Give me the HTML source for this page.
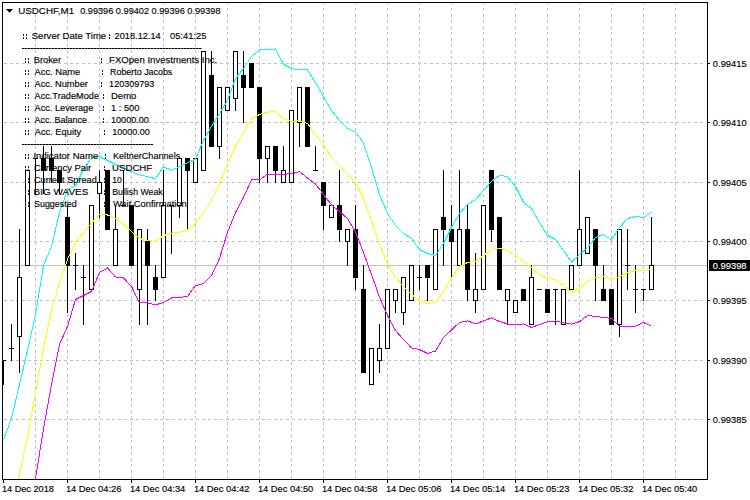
<!DOCTYPE html>
<html><head><meta charset="utf-8"><title>USDCHF,M1</title>
<style>
html,body{margin:0;padding:0;background:#fff;}
body{width:750px;height:500px;overflow:hidden;}
svg{display:block;}
text{font-family:"Liberation Sans",sans-serif;font-size:9.8px;fill:#000;stroke:#000;stroke-width:0.15px;}
</style></head><body>
<svg width="750" height="500" viewBox="0 0 750 500">
<rect x="0" y="0" width="750" height="500" fill="#fff"/>
<defs><clipPath id="cp"><rect x="3" y="3" width="704" height="476"/></clipPath></defs>

<g shape-rendering="crispEdges" stroke="#c0c0c0" stroke-width="1" stroke-dasharray="3 3" fill="none">
<line x1="35.5" y1="3" x2="35.5" y2="479" stroke-dashoffset="1"/>
<line x1="67.5" y1="3" x2="67.5" y2="479" stroke-dashoffset="1"/>
<line x1="99.5" y1="3" x2="99.5" y2="479" stroke-dashoffset="1"/>
<line x1="131.5" y1="3" x2="131.5" y2="479" stroke-dashoffset="1"/>
<line x1="163.5" y1="3" x2="163.5" y2="479" stroke-dashoffset="1"/>
<line x1="195.5" y1="3" x2="195.5" y2="479" stroke-dashoffset="1"/>
<line x1="227.5" y1="3" x2="227.5" y2="479" stroke-dashoffset="1"/>
<line x1="259.5" y1="3" x2="259.5" y2="479" stroke-dashoffset="1"/>
<line x1="291.5" y1="3" x2="291.5" y2="479" stroke-dashoffset="1"/>
<line x1="323.5" y1="3" x2="323.5" y2="479" stroke-dashoffset="1"/>
<line x1="355.5" y1="3" x2="355.5" y2="479" stroke-dashoffset="1"/>
<line x1="387.5" y1="3" x2="387.5" y2="479" stroke-dashoffset="1"/>
<line x1="419.5" y1="3" x2="419.5" y2="479" stroke-dashoffset="1"/>
<line x1="451.5" y1="3" x2="451.5" y2="479" stroke-dashoffset="1"/>
<line x1="483.5" y1="3" x2="483.5" y2="479" stroke-dashoffset="1"/>
<line x1="515.5" y1="3" x2="515.5" y2="479" stroke-dashoffset="1"/>
<line x1="547.5" y1="3" x2="547.5" y2="479" stroke-dashoffset="1"/>
<line x1="579.5" y1="3" x2="579.5" y2="479" stroke-dashoffset="1"/>
<line x1="611.5" y1="3" x2="611.5" y2="479" stroke-dashoffset="1"/>
<line x1="643.5" y1="3" x2="643.5" y2="479" stroke-dashoffset="1"/>
<line x1="675.5" y1="3" x2="675.5" y2="479" stroke-dashoffset="1"/>
<line x1="3" y1="63.5" x2="706" y2="63.5" stroke-dashoffset="5"/>
<line x1="3" y1="122.5" x2="706" y2="122.5" stroke-dashoffset="5"/>
<line x1="3" y1="182.5" x2="706" y2="182.5" stroke-dashoffset="5"/>
<line x1="3" y1="241.5" x2="706" y2="241.5" stroke-dashoffset="5"/>
<line x1="3" y1="300.5" x2="706" y2="300.5" stroke-dashoffset="5"/>
<line x1="3" y1="360.5" x2="706" y2="360.5" stroke-dashoffset="5"/>
<line x1="3" y1="419.5" x2="706" y2="419.5" stroke-dashoffset="5"/>
</g>
<rect x="3" y="265" width="704" height="1" fill="#c0c0c0" shape-rendering="crispEdges"/>
<g shape-rendering="crispEdges" clip-path="url(#cp)">
<rect x="3" y="360" width="1" height="25" fill="#000"/>
<rect x="1" y="360" width="5" height="1" fill="#000"/>
<rect x="11" y="324" width="1" height="37" fill="#000"/>
<rect x="9" y="348" width="5" height="1" fill="#000"/>
<rect x="19" y="229" width="1" height="144" fill="#000"/>
<rect x="17" y="277" width="5" height="60" fill="#000"/>
<rect x="18" y="278" width="3" height="58" fill="#fff"/>
<rect x="27" y="170" width="1" height="96" fill="#000"/>
<rect x="25" y="170" width="5" height="96" fill="#000"/>
<rect x="26" y="171" width="3" height="94" fill="#fff"/>
<rect x="35" y="158" width="1" height="36" fill="#000"/>
<rect x="33" y="158" width="5" height="1" fill="#000"/>
<rect x="43" y="146" width="1" height="48" fill="#000"/>
<rect x="41" y="158" width="5" height="13" fill="#000"/>
<rect x="51" y="146" width="1" height="37" fill="#000"/>
<rect x="49" y="158" width="5" height="13" fill="#000"/>
<rect x="59" y="170" width="1" height="24" fill="#000"/>
<rect x="57" y="170" width="5" height="13" fill="#000"/>
<rect x="67" y="205" width="1" height="108" fill="#000"/>
<rect x="65" y="217" width="5" height="49" fill="#000"/>
<rect x="75" y="253" width="1" height="37" fill="#000"/>
<rect x="73" y="265" width="5" height="1" fill="#000"/>
<rect x="83" y="265" width="1" height="60" fill="#000"/>
<rect x="81" y="277" width="5" height="1" fill="#000"/>
<rect x="91" y="205" width="1" height="85" fill="#000"/>
<rect x="89" y="205" width="5" height="85" fill="#000"/>
<rect x="90" y="206" width="3" height="83" fill="#fff"/>
<rect x="99" y="170" width="1" height="48" fill="#000"/>
<rect x="97" y="182" width="5" height="12" fill="#000"/>
<rect x="98" y="183" width="3" height="10" fill="#fff"/>
<rect x="107" y="170" width="1" height="60" fill="#000"/>
<rect x="105" y="170" width="5" height="60" fill="#000"/>
<rect x="115" y="205" width="1" height="61" fill="#000"/>
<rect x="113" y="229" width="5" height="37" fill="#000"/>
<rect x="114" y="230" width="3" height="35" fill="#fff"/>
<rect x="123" y="170" width="1" height="36" fill="#000"/>
<rect x="121" y="205" width="5" height="1" fill="#000"/>
<rect x="131" y="205" width="1" height="61" fill="#000"/>
<rect x="129" y="205" width="5" height="61" fill="#000"/>
<rect x="139" y="229" width="1" height="96" fill="#000"/>
<rect x="137" y="229" width="5" height="61" fill="#000"/>
<rect x="138" y="230" width="3" height="59" fill="#fff"/>
<rect x="147" y="229" width="1" height="96" fill="#000"/>
<rect x="145" y="241" width="5" height="25" fill="#000"/>
<rect x="155" y="265" width="1" height="36" fill="#000"/>
<rect x="153" y="277" width="5" height="13" fill="#000"/>
<rect x="163" y="170" width="1" height="108" fill="#000"/>
<rect x="161" y="205" width="5" height="73" fill="#000"/>
<rect x="162" y="206" width="3" height="71" fill="#fff"/>
<rect x="171" y="205" width="1" height="49" fill="#000"/>
<rect x="169" y="205" width="5" height="1" fill="#000"/>
<rect x="179" y="158" width="1" height="60" fill="#000"/>
<rect x="177" y="158" width="5" height="48" fill="#000"/>
<rect x="178" y="159" width="3" height="46" fill="#fff"/>
<rect x="187" y="158" width="1" height="72" fill="#000"/>
<rect x="185" y="158" width="5" height="13" fill="#000"/>
<rect x="195" y="158" width="1" height="25" fill="#000"/>
<rect x="193" y="158" width="5" height="25" fill="#000"/>
<rect x="194" y="159" width="3" height="23" fill="#fff"/>
<rect x="203" y="51" width="1" height="120" fill="#000"/>
<rect x="201" y="51" width="5" height="120" fill="#000"/>
<rect x="202" y="52" width="3" height="118" fill="#fff"/>
<rect x="211" y="51" width="1" height="96" fill="#000"/>
<rect x="209" y="75" width="5" height="72" fill="#000"/>
<rect x="219" y="87" width="1" height="72" fill="#000"/>
<rect x="217" y="87" width="5" height="60" fill="#000"/>
<rect x="218" y="88" width="3" height="58" fill="#fff"/>
<rect x="227" y="87" width="1" height="24" fill="#000"/>
<rect x="225" y="87" width="5" height="24" fill="#000"/>
<rect x="226" y="88" width="3" height="22" fill="#fff"/>
<rect x="235" y="51" width="1" height="60" fill="#000"/>
<rect x="233" y="51" width="5" height="48" fill="#000"/>
<rect x="234" y="52" width="3" height="46" fill="#fff"/>
<rect x="243" y="51" width="1" height="72" fill="#000"/>
<rect x="241" y="75" width="5" height="13" fill="#000"/>
<rect x="251" y="63" width="1" height="25" fill="#000"/>
<rect x="249" y="63" width="5" height="25" fill="#000"/>
<rect x="259" y="87" width="1" height="96" fill="#000"/>
<rect x="257" y="87" width="5" height="72" fill="#000"/>
<rect x="267" y="146" width="1" height="37" fill="#000"/>
<rect x="265" y="146" width="5" height="13" fill="#000"/>
<rect x="266" y="147" width="3" height="11" fill="#fff"/>
<rect x="275" y="146" width="1" height="37" fill="#000"/>
<rect x="273" y="146" width="5" height="25" fill="#000"/>
<rect x="283" y="146" width="1" height="37" fill="#000"/>
<rect x="281" y="170" width="5" height="13" fill="#000"/>
<rect x="282" y="171" width="3" height="11" fill="#fff"/>
<rect x="291" y="110" width="1" height="73" fill="#000"/>
<rect x="289" y="110" width="5" height="73" fill="#000"/>
<rect x="290" y="111" width="3" height="71" fill="#fff"/>
<rect x="299" y="87" width="1" height="60" fill="#000"/>
<rect x="297" y="87" width="5" height="36" fill="#000"/>
<rect x="298" y="88" width="3" height="34" fill="#fff"/>
<rect x="307" y="87" width="1" height="60" fill="#000"/>
<rect x="305" y="87" width="5" height="60" fill="#000"/>
<rect x="315" y="146" width="1" height="25" fill="#000"/>
<rect x="313" y="170" width="5" height="1" fill="#000"/>
<rect x="323" y="182" width="1" height="48" fill="#000"/>
<rect x="321" y="182" width="5" height="24" fill="#000"/>
<rect x="331" y="205" width="1" height="13" fill="#000"/>
<rect x="329" y="205" width="5" height="13" fill="#000"/>
<rect x="330" y="206" width="3" height="11" fill="#fff"/>
<rect x="339" y="170" width="1" height="72" fill="#000"/>
<rect x="337" y="205" width="5" height="25" fill="#000"/>
<rect x="347" y="229" width="1" height="37" fill="#000"/>
<rect x="345" y="229" width="5" height="13" fill="#000"/>
<rect x="346" y="230" width="3" height="11" fill="#fff"/>
<rect x="355" y="205" width="1" height="85" fill="#000"/>
<rect x="353" y="229" width="5" height="49" fill="#000"/>
<rect x="363" y="265" width="1" height="108" fill="#000"/>
<rect x="361" y="289" width="5" height="84" fill="#000"/>
<rect x="371" y="348" width="1" height="37" fill="#000"/>
<rect x="369" y="348" width="5" height="37" fill="#000"/>
<rect x="370" y="349" width="3" height="35" fill="#fff"/>
<rect x="379" y="324" width="1" height="49" fill="#000"/>
<rect x="377" y="348" width="5" height="13" fill="#000"/>
<rect x="378" y="349" width="3" height="11" fill="#fff"/>
<rect x="387" y="289" width="1" height="60" fill="#000"/>
<rect x="385" y="289" width="5" height="60" fill="#000"/>
<rect x="386" y="290" width="3" height="58" fill="#fff"/>
<rect x="395" y="289" width="1" height="24" fill="#000"/>
<rect x="393" y="289" width="5" height="12" fill="#000"/>
<rect x="394" y="290" width="3" height="10" fill="#fff"/>
<rect x="403" y="277" width="1" height="48" fill="#000"/>
<rect x="401" y="277" width="5" height="36" fill="#000"/>
<rect x="402" y="278" width="3" height="34" fill="#fff"/>
<rect x="411" y="265" width="1" height="36" fill="#000"/>
<rect x="409" y="265" width="5" height="36" fill="#000"/>
<rect x="410" y="266" width="3" height="34" fill="#fff"/>
<rect x="419" y="265" width="1" height="25" fill="#000"/>
<rect x="417" y="277" width="5" height="1" fill="#000"/>
<rect x="427" y="265" width="1" height="36" fill="#000"/>
<rect x="425" y="265" width="5" height="13" fill="#000"/>
<rect x="435" y="229" width="1" height="61" fill="#000"/>
<rect x="433" y="229" width="5" height="61" fill="#000"/>
<rect x="434" y="230" width="3" height="59" fill="#fff"/>
<rect x="443" y="170" width="1" height="96" fill="#000"/>
<rect x="441" y="217" width="5" height="13" fill="#000"/>
<rect x="451" y="205" width="1" height="73" fill="#000"/>
<rect x="449" y="229" width="5" height="13" fill="#000"/>
<rect x="459" y="170" width="1" height="96" fill="#000"/>
<rect x="457" y="229" width="5" height="37" fill="#000"/>
<rect x="458" y="230" width="3" height="35" fill="#fff"/>
<rect x="467" y="205" width="1" height="96" fill="#000"/>
<rect x="465" y="229" width="5" height="61" fill="#000"/>
<rect x="475" y="253" width="1" height="60" fill="#000"/>
<rect x="473" y="289" width="5" height="12" fill="#000"/>
<rect x="474" y="290" width="3" height="10" fill="#fff"/>
<rect x="483" y="205" width="1" height="85" fill="#000"/>
<rect x="481" y="205" width="5" height="85" fill="#000"/>
<rect x="482" y="206" width="3" height="83" fill="#fff"/>
<rect x="491" y="170" width="1" height="72" fill="#000"/>
<rect x="489" y="170" width="5" height="60" fill="#000"/>
<rect x="499" y="217" width="1" height="73" fill="#000"/>
<rect x="497" y="217" width="5" height="73" fill="#000"/>
<rect x="507" y="289" width="1" height="36" fill="#000"/>
<rect x="505" y="289" width="5" height="12" fill="#000"/>
<rect x="506" y="290" width="3" height="10" fill="#fff"/>
<rect x="515" y="300" width="1" height="13" fill="#000"/>
<rect x="513" y="300" width="5" height="13" fill="#000"/>
<rect x="514" y="301" width="3" height="11" fill="#fff"/>
<rect x="523" y="289" width="1" height="12" fill="#000"/>
<rect x="521" y="289" width="5" height="12" fill="#000"/>
<rect x="531" y="265" width="1" height="60" fill="#000"/>
<rect x="529" y="277" width="5" height="48" fill="#000"/>
<rect x="530" y="278" width="3" height="46" fill="#fff"/>
<rect x="539" y="289" width="1" height="1" fill="#000"/>
<rect x="537" y="289" width="5" height="1" fill="#000"/>
<rect x="547" y="289" width="1" height="24" fill="#000"/>
<rect x="545" y="289" width="5" height="24" fill="#000"/>
<rect x="555" y="289" width="1" height="36" fill="#000"/>
<rect x="553" y="289" width="5" height="1" fill="#000"/>
<rect x="563" y="289" width="1" height="36" fill="#000"/>
<rect x="561" y="289" width="5" height="36" fill="#000"/>
<rect x="562" y="290" width="3" height="34" fill="#fff"/>
<rect x="571" y="265" width="1" height="25" fill="#000"/>
<rect x="569" y="265" width="5" height="25" fill="#000"/>
<rect x="570" y="266" width="3" height="23" fill="#fff"/>
<rect x="579" y="170" width="1" height="96" fill="#000"/>
<rect x="577" y="229" width="5" height="37" fill="#000"/>
<rect x="578" y="230" width="3" height="35" fill="#fff"/>
<rect x="587" y="217" width="1" height="37" fill="#000"/>
<rect x="585" y="217" width="5" height="37" fill="#000"/>
<rect x="586" y="218" width="3" height="35" fill="#fff"/>
<rect x="595" y="229" width="1" height="72" fill="#000"/>
<rect x="593" y="229" width="5" height="37" fill="#000"/>
<rect x="603" y="265" width="1" height="36" fill="#000"/>
<rect x="601" y="289" width="5" height="12" fill="#000"/>
<rect x="611" y="289" width="1" height="36" fill="#000"/>
<rect x="609" y="289" width="5" height="36" fill="#000"/>
<rect x="619" y="229" width="1" height="108" fill="#000"/>
<rect x="617" y="229" width="5" height="96" fill="#000"/>
<rect x="618" y="230" width="3" height="94" fill="#fff"/>
<rect x="627" y="229" width="1" height="61" fill="#000"/>
<rect x="625" y="265" width="5" height="1" fill="#000"/>
<rect x="635" y="265" width="1" height="48" fill="#000"/>
<rect x="633" y="289" width="5" height="1" fill="#000"/>
<rect x="643" y="289" width="1" height="12" fill="#000"/>
<rect x="641" y="289" width="5" height="1" fill="#000"/>
<rect x="651" y="217" width="1" height="73" fill="#000"/>
<rect x="649" y="265" width="5" height="25" fill="#000"/>
<rect x="650" y="266" width="3" height="23" fill="#fff"/>
</g>
<polyline points="3.5,439.5 11.5,418.5 19.5,384.5 27.5,350.5 35.5,314.5 43.5,265.5 51.5,246.5 59.5,212.5 67.5,190.1 75.5,185.5 83.5,169.5 91.5,158.1 99.5,156.5 107.5,160.5 115.5,164.5 123.5,167.5 131.5,171.5 139.5,174.9 147.5,176.5 155.5,178.9 163.5,166.9 171.5,170.1 179.5,166.9 187.5,162.9 195.5,159.1 203.5,140.5 211.5,126.5 219.5,113.5 227.5,100.5 235.5,78.5 243.5,68.5 251.5,56.5 259.5,49.9 267.5,49.5 275.5,48.9 283.5,64.5 291.5,68.5 299.5,69.9 307.5,69.9 315.5,82.5 323.5,96.5 331.5,110.5 339.5,120.5 347.5,128.5 355.5,132.1 363.5,143.0 371.5,167.5 379.5,194.5 387.5,213.5 395.5,225.5 403.5,233.5 411.5,238.5 419.5,249.5 427.5,253.5 435.5,255.5 443.5,243.5 451.5,227.5 459.5,213.5 467.5,204.5 475.5,199.5 483.5,190.5 491.5,181.5 499.5,175.5 507.5,176.5 515.5,186.5 523.5,202.5 531.5,208.5 539.5,222.5 547.5,235.5 555.5,239.5 563.5,250.5 571.5,261.9 579.5,254.5 587.5,247.5 595.5,237.5 603.5,234.5 611.5,239.9 619.5,227.5 627.5,218.5 635.5,216.5 643.5,217.5 651.5,212.1" fill="none" stroke="#00ffff" stroke-width="1" shape-rendering="crispEdges" clip-path="url(#cp)"/>
<polyline points="3.5,545.5 11.5,510.5 19.5,473.5 27.5,437.5 35.5,392.5 43.5,348.5 51.5,310.5 59.5,282.5 67.5,259.5 75.5,242.5 83.5,232.5 91.5,223.0 99.5,214.5 107.5,215.0 115.5,218.5 123.5,224.0 131.5,231.5 139.5,238.5 147.5,240.5 155.5,241.5 163.5,235.5 171.5,233.5 179.5,232.1 187.5,230.1 195.5,223.5 203.5,212.5 211.5,200.5 219.5,183.5 227.5,164.5 235.5,146.5 243.5,132.5 251.5,118.5 259.5,114.5 267.5,112.1 275.5,111.7 283.5,118.5 291.5,121.5 299.5,120.5 307.5,123.5 315.5,134.5 323.5,145.0 331.5,157.5 339.5,165.5 347.5,173.5 355.5,182.5 363.5,198.5 371.5,220.5 379.5,244.5 387.5,263.5 395.5,277.5 403.5,286.5 411.5,294.5 419.5,300.5 427.5,303.5 435.5,302.5 443.5,292.0 451.5,277.5 459.5,266.5 467.5,262.5 475.5,261.5 483.5,255.5 491.5,249.5 499.5,248.1 507.5,250.5 515.5,255.5 523.5,261.5 531.5,267.5 539.5,274.5 547.5,278.5 555.5,279.5 563.5,285.5 571.5,292.5 579.5,288.5 587.5,281.5 595.5,277.8 603.5,276.5 611.5,279.1 619.5,276.5 627.5,272.5 635.5,270.5 643.5,270.5 651.5,268.7" fill="none" stroke="#ffff00" stroke-width="1" shape-rendering="crispEdges" clip-path="url(#cp)"/>
<polyline points="3.5,650.5 11.5,602.5 19.5,562.5 27.5,525.5 35.5,478.5 43.5,428.5 51.5,384.5 59.5,344.5 67.5,326.5 75.5,299.5 83.5,295.5 91.5,291.5 99.5,272.5 107.5,268.0 115.5,276.9 123.5,278.0 131.5,286.5 139.5,302.9 147.5,302.9 155.5,304.9 163.5,302.5 171.5,298.0 179.5,297.5 187.5,296.5 195.5,285.5 203.5,283.7 211.5,275.5 219.5,258.5 227.5,232.5 235.5,212.5 243.5,197.5 251.5,179.9 259.5,179.9 267.5,174.1 275.5,174.9 283.5,174.1 291.5,173.9 299.5,171.5 307.5,178.1 315.5,184.1 323.5,194.5 331.5,204.9 339.5,211.5 347.5,218.5 355.5,232.0 363.5,252.5 371.5,274.5 379.5,297.0 387.5,315.5 395.5,330.5 403.5,339.5 411.5,347.9 419.5,349.5 427.5,353.5 435.5,351.0 443.5,337.5 451.5,329.9 459.5,322.5 467.5,320.9 475.5,323.9 483.5,320.9 491.5,317.9 499.5,321.5 507.5,323.9 515.5,324.9 523.5,323.9 531.5,327.5 539.5,324.5 547.5,321.9 555.5,320.9 563.5,322.9 571.5,324.1 579.5,321.7 587.5,315.5 595.5,316.5 603.5,317.5 611.5,318.5 619.5,326.5 627.5,326.1 635.5,326.1 643.5,322.5 651.5,326.1" fill="none" stroke="#ff00ff" stroke-width="1" shape-rendering="crispEdges" clip-path="url(#cp)"/>
<g id="info">
<polygon points="6,9 13,9 9.5,12.7" fill="#000"/>
<text x="18.25" y="14.4" xml:space="preserve" textLength="55.91" lengthAdjust="spacingAndGlyphs">USDCHF,M1</text>
<text x="80.17" y="14.4" xml:space="preserve" textLength="140.33" lengthAdjust="spacingAndGlyphs">0.99396 0.99402 0.99396 0.99398</text>
<text x="31.71" y="39" xml:space="preserve" textLength="74.48" lengthAdjust="spacingAndGlyphs">Server Date Time</text>
<text x="114.53" y="39" xml:space="preserve" textLength="46.24" lengthAdjust="spacingAndGlyphs">2018.12.14</text>
<text x="169.96" y="39" xml:space="preserve" textLength="36.41" lengthAdjust="spacingAndGlyphs">05:41:25</text>
<text x="33.79" y="62.5" xml:space="preserve" textLength="27.31" lengthAdjust="spacingAndGlyphs">Broker</text>
<text x="109.07" y="62.5" xml:space="preserve" textLength="108.20" lengthAdjust="spacingAndGlyphs">FXOpen Investments Inc.</text>
<text x="34.5" y="74.5" xml:space="preserve" textLength="45.69" lengthAdjust="spacingAndGlyphs">Acc. Name</text>
<text x="110.02" y="74.5" xml:space="preserve" textLength="62.31" lengthAdjust="spacingAndGlyphs">Roberto Jacobs</text>
<text x="34.5" y="86.5" xml:space="preserve" textLength="53.41" lengthAdjust="spacingAndGlyphs">Acc. Number</text>
<text x="109.11" y="86.5" xml:space="preserve" textLength="45.29" lengthAdjust="spacingAndGlyphs">120309793</text>
<text x="34.5" y="98.5" xml:space="preserve" textLength="64.51" lengthAdjust="spacingAndGlyphs">Acc.TradeMode</text>
<text x="110.97" y="98.5" xml:space="preserve" textLength="25.40" lengthAdjust="spacingAndGlyphs">Demo</text>
<text x="34.5" y="110.5" xml:space="preserve" textLength="58.85" lengthAdjust="spacingAndGlyphs">Acc. Leverage</text>
<text x="110.99" y="110.5" xml:space="preserve" textLength="28.45" lengthAdjust="spacingAndGlyphs">1 : 500</text>
<text x="34.5" y="122.5" xml:space="preserve" textLength="52.39" lengthAdjust="spacingAndGlyphs">Acc. Balance</text>
<text x="111.0" y="122.5" xml:space="preserve" textLength="37.93" lengthAdjust="spacingAndGlyphs">10000.00</text>
<text x="34.7" y="134.5" xml:space="preserve" textLength="46.50" lengthAdjust="spacingAndGlyphs">Acc. Equity</text>
<text x="112.31" y="134.5" xml:space="preserve" textLength="37.52" lengthAdjust="spacingAndGlyphs">10000.00</text>
<text x="33.42" y="158.5" xml:space="preserve" textLength="64.80" lengthAdjust="spacingAndGlyphs">Indicator Name</text>
<text x="113.0" y="158.5" xml:space="preserve" textLength="67.20" lengthAdjust="spacingAndGlyphs">KeltnerChannels</text>
<text x="33.92" y="170.5" xml:space="preserve" textLength="57.21" lengthAdjust="spacingAndGlyphs">Currency Pair</text>
<text x="112.06" y="170.5" xml:space="preserve" textLength="40.15" lengthAdjust="spacingAndGlyphs">USDCHF</text>
<text x="33.93" y="182.5" xml:space="preserve" textLength="62.92" lengthAdjust="spacingAndGlyphs">Current Spread</text>
<text x="112.24" y="182.5" xml:space="preserve" textLength="9.61" lengthAdjust="spacingAndGlyphs">10</text>
<text x="33.64" y="194.5" xml:space="preserve" textLength="54.76" lengthAdjust="spacingAndGlyphs">BIG WAVES</text>
<text x="112.23" y="194.5" xml:space="preserve" textLength="50.52" lengthAdjust="spacingAndGlyphs">Bullish Weak</text>
<text x="33.94" y="206.5" xml:space="preserve" textLength="42.80" lengthAdjust="spacingAndGlyphs">Suggested</text>
<text x="112.9" y="206.5" xml:space="preserve" textLength="73.87" lengthAdjust="spacingAndGlyphs">Wait Confirmation</text>
<g fill="#3a0a45" shape-rendering="crispEdges">
<rect x="23" y="34" width="1" height="2"/><rect x="23" y="37" width="1" height="2"/>
<rect x="26" y="34" width="1" height="2"/><rect x="26" y="37" width="1" height="2"/>
<rect x="109" y="34" width="1" height="2"/><rect x="109" y="37" width="1" height="2"/>
<rect x="25" y="58" width="1" height="2"/><rect x="25" y="61" width="1" height="2"/>
<rect x="28" y="58" width="1" height="2"/><rect x="28" y="61" width="1" height="2"/>
<rect x="101" y="58" width="1" height="2"/><rect x="101" y="61" width="1" height="2"/>
<rect x="25" y="70" width="1" height="2"/><rect x="25" y="73" width="1" height="2"/>
<rect x="28" y="70" width="1" height="2"/><rect x="28" y="73" width="1" height="2"/>
<rect x="102" y="70" width="1" height="2"/><rect x="102" y="73" width="1" height="2"/>
<rect x="25" y="82" width="1" height="2"/><rect x="25" y="85" width="1" height="2"/>
<rect x="28" y="82" width="1" height="2"/><rect x="28" y="85" width="1" height="2"/>
<rect x="101" y="82" width="1" height="2"/><rect x="101" y="85" width="1" height="2"/>
<rect x="25" y="94" width="1" height="2"/><rect x="25" y="97" width="1" height="2"/>
<rect x="28" y="94" width="1" height="2"/><rect x="28" y="97" width="1" height="2"/>
<rect x="103" y="94" width="1" height="2"/><rect x="103" y="97" width="1" height="2"/>
<rect x="25" y="106" width="1" height="2"/><rect x="25" y="109" width="1" height="2"/>
<rect x="28" y="106" width="1" height="2"/><rect x="28" y="109" width="1" height="2"/>
<rect x="103" y="106" width="1" height="2"/><rect x="103" y="109" width="1" height="2"/>
<rect x="25" y="118" width="1" height="2"/><rect x="25" y="121" width="1" height="2"/>
<rect x="28" y="118" width="1" height="2"/><rect x="28" y="121" width="1" height="2"/>
<rect x="103" y="118" width="1" height="2"/><rect x="103" y="121" width="1" height="2"/>
<rect x="25" y="130" width="1" height="2"/><rect x="25" y="133" width="1" height="2"/>
<rect x="28" y="130" width="1" height="2"/><rect x="28" y="133" width="1" height="2"/>
<rect x="104" y="130" width="1" height="2"/><rect x="104" y="133" width="1" height="2"/>
<rect x="25" y="154" width="1" height="2"/><rect x="25" y="157" width="1" height="2"/>
<rect x="28" y="154" width="1" height="2"/><rect x="28" y="157" width="1" height="2"/>
<rect x="105" y="154" width="1" height="2"/><rect x="105" y="157" width="1" height="2"/>
<rect x="25" y="166" width="1" height="2"/><rect x="25" y="169" width="1" height="2"/>
<rect x="28" y="166" width="1" height="2"/><rect x="28" y="169" width="1" height="2"/>
<rect x="104" y="166" width="1" height="2"/><rect x="104" y="169" width="1" height="2"/>
<rect x="25" y="178" width="1" height="2"/><rect x="25" y="181" width="1" height="2"/>
<rect x="28" y="178" width="1" height="2"/><rect x="28" y="181" width="1" height="2"/>
<rect x="104" y="178" width="1" height="2"/><rect x="104" y="181" width="1" height="2"/>
<rect x="25" y="190" width="1" height="2"/><rect x="25" y="193" width="1" height="2"/>
<rect x="28" y="190" width="1" height="2"/><rect x="28" y="193" width="1" height="2"/>
<rect x="104" y="190" width="1" height="2"/><rect x="104" y="193" width="1" height="2"/>
<rect x="25" y="202" width="1" height="2"/><rect x="25" y="205" width="1" height="2"/>
<rect x="28" y="202" width="1" height="2"/><rect x="28" y="205" width="1" height="2"/>
<rect x="104" y="202" width="1" height="2"/><rect x="104" y="205" width="1" height="2"/>
</g>
<rect x="22" y="48" width="180" height="1" fill="#7a6a5c" shape-rendering="crispEdges"/>
<line x1="22" y1="48.5" x2="202" y2="48.5" stroke="#000" stroke-width="1" stroke-dasharray="2 1" shape-rendering="crispEdges"/>
<rect x="22" y="144" width="131" height="1" fill="#7a6a5c" shape-rendering="crispEdges"/>
<line x1="22" y1="144.5" x2="153" y2="144.5" stroke="#000" stroke-width="1" stroke-dasharray="2 1" shape-rendering="crispEdges"/>
</g>
<g shape-rendering="crispEdges" fill="#000">
<rect x="2" y="2" width="706" height="1"/><rect x="2" y="479" width="706" height="1"/>
<rect x="2" y="2" width="1" height="478"/><rect x="707" y="2" width="1" height="478"/>
<rect x="708" y="63" width="2" height="1"/>
<rect x="708" y="122" width="2" height="1"/>
<rect x="708" y="182" width="2" height="1"/>
<rect x="708" y="241" width="2" height="1"/>
<rect x="708" y="300" width="2" height="1"/>
<rect x="708" y="360" width="2" height="1"/>
<rect x="708" y="419" width="2" height="1"/>
<rect x="3" y="480" width="1" height="3"/>
<rect x="67" y="480" width="1" height="3"/>
<rect x="131" y="480" width="1" height="3"/>
<rect x="195" y="480" width="1" height="3"/>
<rect x="259" y="480" width="1" height="3"/>
<rect x="323" y="480" width="1" height="3"/>
<rect x="387" y="480" width="1" height="3"/>
<rect x="451" y="480" width="1" height="3"/>
<rect x="515" y="480" width="1" height="3"/>
<rect x="579" y="480" width="1" height="3"/>
<rect x="643" y="480" width="1" height="3"/>
</g>
<rect x="709" y="260" width="41" height="11" fill="#000" shape-rendering="crispEdges"/>
<text x="712.86" y="66.9" xml:space="preserve" textLength="33.73" lengthAdjust="spacingAndGlyphs">0.99415</text>
<text x="712.86" y="125.9" xml:space="preserve" textLength="33.73" lengthAdjust="spacingAndGlyphs">0.99410</text>
<text x="712.86" y="185.9" xml:space="preserve" textLength="33.73" lengthAdjust="spacingAndGlyphs">0.99405</text>
<text x="712.86" y="244.9" xml:space="preserve" textLength="33.73" lengthAdjust="spacingAndGlyphs">0.99400</text>
<text x="712.86" y="303.9" xml:space="preserve" textLength="33.73" lengthAdjust="spacingAndGlyphs">0.99395</text>
<text x="712.86" y="363.9" xml:space="preserve" textLength="33.73" lengthAdjust="spacingAndGlyphs">0.99390</text>
<text x="712.86" y="422.9" xml:space="preserve" textLength="33.73" lengthAdjust="spacingAndGlyphs">0.99385</text>
<text x="712.76" y="269" xml:space="preserve" textLength="33.83" lengthAdjust="spacingAndGlyphs" style="fill:#fff;stroke:#fff">0.99398</text>
<text x="1.9" y="492.3" xml:space="preserve" textLength="51.99" lengthAdjust="spacingAndGlyphs">14 Dec 2018</text>
<text x="65.88" y="492.3" xml:space="preserve" textLength="55.62" lengthAdjust="spacingAndGlyphs">14 Dec 04:26</text>
<text x="129.89" y="492.3" xml:space="preserve" textLength="55.38" lengthAdjust="spacingAndGlyphs">14 Dec 04:34</text>
<text x="193.88" y="492.3" xml:space="preserve" textLength="55.62" lengthAdjust="spacingAndGlyphs">14 Dec 04:42</text>
<text x="257.89" y="492.3" xml:space="preserve" textLength="55.38" lengthAdjust="spacingAndGlyphs">14 Dec 04:50</text>
<text x="321.88" y="492.3" xml:space="preserve" textLength="55.62" lengthAdjust="spacingAndGlyphs">14 Dec 04:58</text>
<text x="385.88" y="492.3" xml:space="preserve" textLength="55.62" lengthAdjust="spacingAndGlyphs">14 Dec 05:06</text>
<text x="449.89" y="492.3" xml:space="preserve" textLength="55.38" lengthAdjust="spacingAndGlyphs">14 Dec 05:14</text>
<text x="513.88" y="492.3" xml:space="preserve" textLength="55.62" lengthAdjust="spacingAndGlyphs">14 Dec 05:23</text>
<text x="577.88" y="492.3" xml:space="preserve" textLength="55.62" lengthAdjust="spacingAndGlyphs">14 Dec 05:32</text>
<text x="641.89" y="492.3" xml:space="preserve" textLength="55.38" lengthAdjust="spacingAndGlyphs">14 Dec 05:40</text>
</svg></body></html>
